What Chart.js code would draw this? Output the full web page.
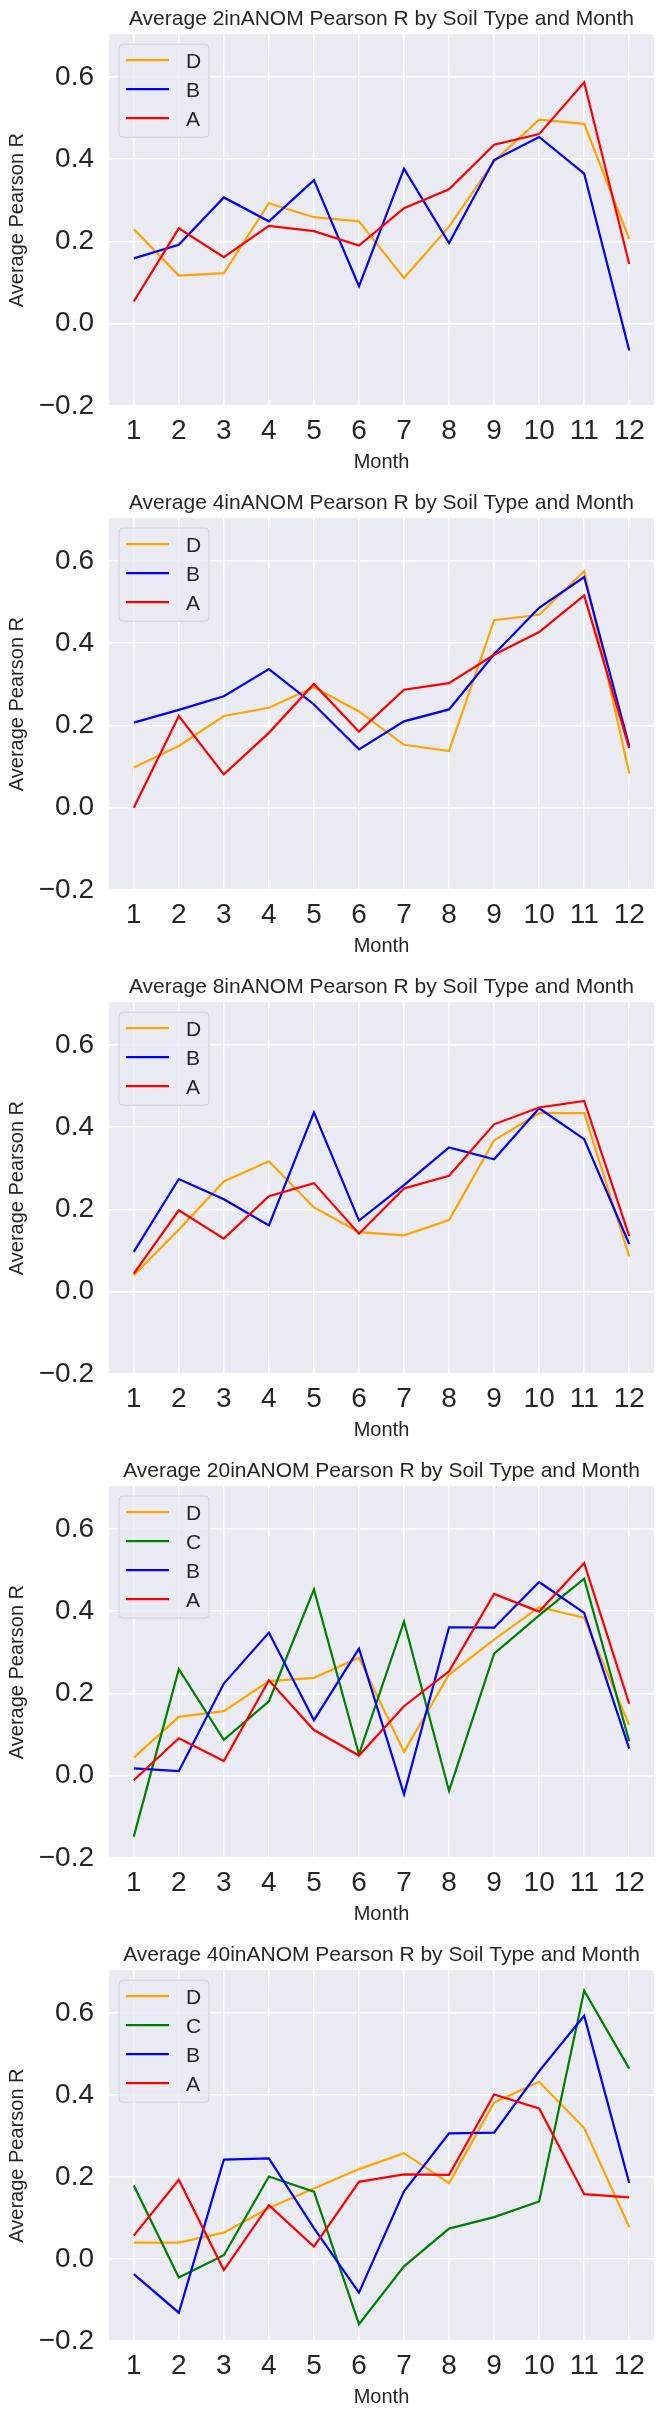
<!DOCTYPE html>
<html><head><meta charset="utf-8">
<script src="https://cdn.jsdelivr.net/npm/chart.js@4.4.1/dist/chart.umd.min.js"></script>
<style>
html,body{margin:0;padding:0;background:#ffffff;}
canvas{display:block;}
</style></head><body>
<canvas id="c0" width="660" height="484" style="width:660px;height:484px"></canvas>
<canvas id="c1" width="660" height="484" style="width:660px;height:484px"></canvas>
<canvas id="c2" width="660" height="484" style="width:660px;height:484px"></canvas>
<canvas id="c3" width="660" height="484" style="width:660px;height:484px"></canvas>
<canvas id="c4" width="660" height="483" style="width:660px;height:483px"></canvas>
<script>
// ---- data ----
const months = [1,2,3,4,5,6,7,8,9,10,11,12];
const yTickValues = [-0.2, 0.0, 0.2, 0.4, 0.6];
const depthLabels = ['2in','4in','8in','20in','40in'];
const soilColors = {D:'#FFA500', C:'#008000', B:'#0000FF', A:'#FF0000'};

const d2_D = [0.230, 0.117, 0.123, 0.293, 0.259, 0.249, 0.111, 0.236, 0.395, 0.496, 0.486, 0.206];
const d2_B = [0.159, 0.192, 0.307, 0.249, 0.349, 0.091, 0.377, 0.196, 0.398, 0.454, 0.365, -0.065];
const d2_A = [0.054, 0.232, 0.162, 0.238, 0.225, 0.190, 0.281, 0.327, 0.435, 0.461, 0.587, 0.145];

const d4_D = [0.098, 0.150, 0.223, 0.243, 0.293, 0.234, 0.153, 0.138, 0.456, 0.469, 0.575, 0.083];
const d4_B = [0.207, 0.238, 0.271, 0.337, 0.251, 0.142, 0.210, 0.239, 0.373, 0.486, 0.561, 0.150];
const d4_A = [0.000, 0.223, 0.081, 0.182, 0.301, 0.185, 0.287, 0.303, 0.372, 0.427, 0.516, 0.145];

const d8_D = [0.040, 0.151, 0.268, 0.317, 0.205, 0.145, 0.137, 0.174, 0.368, 0.434, 0.434, 0.086];
const d8_B = [0.097, 0.274, 0.225, 0.161, 0.436, 0.173, 0.259, 0.351, 0.322, 0.446, 0.371, 0.116];
const d8_A = [0.044, 0.198, 0.129, 0.232, 0.264, 0.141, 0.251, 0.282, 0.407, 0.448, 0.464, 0.135];

const d20_D = [0.044, 0.143, 0.157, 0.230, 0.238, 0.287, 0.058, 0.246, 0.331, 0.410, 0.384, 0.123];
const d20_C = [-0.148, 0.259, 0.087, 0.181, 0.453, 0.052, 0.375, -0.037, 0.297, 0.390, 0.479, 0.084];
const d20_B = [0.018, 0.011, 0.224, 0.348, 0.135, 0.309, -0.045, 0.361, 0.360, 0.471, 0.396, 0.066];
const d20_A = [-0.011, 0.091, 0.036, 0.232, 0.111, 0.049, 0.169, 0.254, 0.442, 0.399, 0.517, 0.175];

const d40_D = [0.040, 0.040, 0.064, 0.124, 0.172, 0.219, 0.258, 0.185, 0.381, 0.432, 0.319, 0.078];
const d40_C = [0.179, -0.045, 0.009, 0.201, 0.164, -0.159, -0.018, 0.074, 0.102, 0.140, 0.654, 0.464];
const d40_B = [-0.037, -0.131, 0.242, 0.245, 0.075, -0.082, 0.165, 0.306, 0.308, 0.458, 0.593, 0.185];
const d40_A = [0.057, 0.193, -0.027, 0.131, 0.030, 0.188, 0.206, 0.205, 0.401, 0.367, 0.158, 0.150];

const panelSeries = [
  {D:d2_D, B:d2_B, A:d2_A},
  {D:d4_D, B:d4_B, A:d4_A},
  {D:d8_D, B:d8_B, A:d8_A},
  {D:d20_D, C:d20_C, B:d20_B, A:d20_A},
  {D:d40_D, C:d40_C, B:d40_B, A:d40_A}
];

// ---- style ----
const FONT = '"Liberation Sans", Arial, Helvetica, sans-serif';
const TEXT = '#262626';
Chart.defaults.font.family = FONT;
Chart.defaults.color = TEXT;

const legendBox = {
  id: 'legendBox',
  afterDatasetsDraw(chart) {
    const ctx = chart.ctx, ca = chart.chartArea;
    const ds = chart.data.datasets;
    const x0 = ca.left + 10, y0 = ca.top + 10, w = 90, h = 29 * ds.length + 6, r = 4;
    ctx.save();
    ctx.beginPath();
    ctx.moveTo(x0 + r, y0);
    ctx.lineTo(x0 + w - r, y0); ctx.arcTo(x0 + w, y0, x0 + w, y0 + r, r);
    ctx.lineTo(x0 + w, y0 + h - r); ctx.arcTo(x0 + w, y0 + h, x0 + w - r, y0 + h, r);
    ctx.lineTo(x0 + r, y0 + h); ctx.arcTo(x0, y0 + h, x0, y0 + h - r, r);
    ctx.lineTo(x0, y0 + r); ctx.arcTo(x0, y0, x0 + r, y0, r);
    ctx.closePath();
    ctx.fillStyle = 'rgba(234,234,242,0.8)';
    ctx.fill();
    ctx.lineWidth = 1;
    ctx.strokeStyle = '#cfcfd4';
    ctx.stroke();
    ctx.font = '21px ' + FONT;
    ctx.textBaseline = 'alphabetic';
    ctx.textAlign = 'left';
    ds.forEach((d, i) => {
      const cy = y0 + 16 + 29 * i;
      ctx.beginPath();
      ctx.moveTo(x0 + 7, cy);
      ctx.lineTo(x0 + 50, cy);
      ctx.lineWidth = 2.2;
      ctx.strokeStyle = d.borderColor;
      ctx.stroke();
      ctx.fillStyle = TEXT;
      ctx.fillText(d.label, x0 + 67, cy + 7.5);
    });
    ctx.restore();
  }
};

const bgPlugin = {
  id: 'plotBg',
  beforeDraw(chart) {
    const ctx = chart.ctx, ca = chart.chartArea;
    ctx.save();
    ctx.fillStyle = '#EAEAF2';
    ctx.fillRect(ca.left, ca.top, ca.right - ca.left, ca.bottom - ca.top);
    ctx.restore();
  }
};

function fmtY(v) {
  const s = Math.abs(v).toFixed(1);
  return v < -1e-9 ? '\u2212' + s : s;
}

panelSeries.forEach((series, p) => {
  const keys = Object.keys(series);
  const n = keys.length;
  const datasets = keys.map((k, i) => ({
    label: k,
    data: months.map((m, j) => ({x: m, y: series[k][j]})),
    borderColor: soilColors[k],
    backgroundColor: soilColors[k],
    borderWidth: 2.2,
    pointRadius: 0,
    tension: 0,
    order: n - 1 - i
  }));
  new Chart(document.getElementById('c' + p), {
    type: 'line',
    data: {datasets},
    plugins: [bgPlugin, legendBox],
    options: {
      responsive: false,
      devicePixelRatio: 1,
      animation: false,
      layout: {padding: {left: 0, right: 6, top: 0, bottom: 0}},
      plugins: {
        legend: {display: false},
        tooltip: {enabled: false},
        title: {
          display: true,
          fullSize: false,
          text: 'Average ' + depthLabels[p] + 'ANOM Pearson R by Soil Type and Month',
          font: {size: 21, weight: 'normal', family: FONT, lineHeight: 1.15},
          color: TEXT,
          padding: {top: 7, bottom: 3}
        }
      },
      scales: {
        x: {
          type: 'linear',
          min: 0.45,
          max: 12.55,
          afterBuildTicks(scale) { scale.ticks = months.map(v => ({value: v})); },
          afterFit(scale) { scale.height = 78; },
          grid: {color: '#ffffff', lineWidth: 1.5, drawTicks: false},
          border: {display: false},
          ticks: {
            font: {size: 28, family: FONT},
            color: TEXT,
            padding: 8,
            maxRotation: 0,
            autoSkip: false,
            callback: v => String(v)
          },
          title: {
            display: true,
            text: 'Month',
            font: {size: 20, family: FONT},
            color: TEXT,
            padding: {top: 0, bottom: 10}
          }
        },
        y: {
          type: 'linear',
          min: -0.2,
          max: 0.704,
          afterBuildTicks(scale) { scale.ticks = yTickValues.map(v => ({value: v})); },
          afterFit(scale) { scale.width = 109; },
          grid: {color: '#ffffff', lineWidth: 1.5, drawTicks: false},
          border: {display: false},
          ticks: {
            font: {size: 28, family: FONT},
            color: TEXT,
            padding: 15,
            callback: v => fmtY(v)
          },
          title: {
            display: true,
            text: 'Average Pearson R',
            font: {size: 20, family: FONT},
            color: TEXT,
            padding: {top: 5, bottom: 0}
          }
        }
      }
    }
  });
});
</script>
</body></html>
